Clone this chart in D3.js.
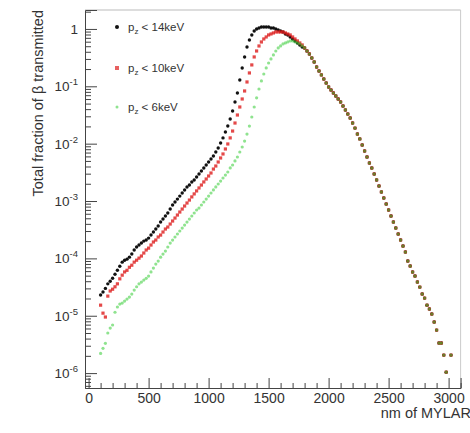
<!DOCTYPE html>
<html>
<head>
<meta charset="utf-8">
<script src="https://cdn.jsdelivr.net/npm/d3@7"></script>
<style>
  body { margin: 0; background: #fff; }
  svg { display: block; }
  text { font-family: "Liberation Sans", Arial, Helvetica, sans-serif; }
</style>
</head>
<body>
<svg id="chart" width="470" height="433"></svg>
<script>
// Thickness grid (nm of Mylar): separate branch up to 1780 nm, common tail from 1800 nm
const headNm = d3.range(100, 1800, 20);
const tailNm = d3.range(1800, 3040, 20);

// Transmitted fraction, p_z < 14 keV
const frac14 = [
  2.3e-5, 2.6e-5, 3.0e-5, 3.6e-5, 4.0e-5, 4.5e-5, 5.3e-5, 6.2e-5, 7.3e-5, 8.6e-5,
  9.3e-5, 9.7e-5, 1.05e-4, 1.19e-4, 1.40e-4, 1.58e-4, 1.71e-4, 1.85e-4, 2.0e-4, 2.09e-4,
  2.26e-4, 2.55e-4, 2.88e-4, 3.25e-4, 3.66e-4, 4.30e-4, 4.85e-4, 5.48e-4, 6.18e-4, 7.25e-4,
  8.52e-4, 9.61e-4, 1.08e-3, 1.22e-3, 1.38e-3, 1.56e-3, 1.76e-3, 1.90e-3, 2.15e-3, 2.33e-3,
  2.63e-3, 2.96e-3, 3.34e-3, 3.77e-3, 4.25e-3, 4.79e-3, 5.41e-3, 6.10e-3, 7.16e-3, 8.41e-3,
  1.03e-2, 1.26e-2, 1.60e-2, 2.03e-2, 2.69e-2, 3.71e-2, 5.33e-2, 7.65e-2, 0.129, 0.209,
  0.325, 0.485, 0.643, 0.786, 0.923, 1.0, 1.04, 1.08, 1.08, 1.08,
  1.08, 1.04, 1.04, 1.0, 0.961, 0.923, 0.887, 0.818, 0.786, 0.725,
  0.669, 0.618, 0.570, 0.526, 0.485
];

// Transmitted fraction, p_z < 10 keV
const frac10 = [
  1.53e-5, 1.11e-5, 9.5e-6, 2.2e-5, 2.7e-5, 2.9e-5, 3.2e-5, 3.6e-5, 4.4e-5, 5.1e-5,
  5.8e-5, 6.2e-5, 7.0e-5, 7.6e-5, 8.6e-5, 9.3e-5, 1.01e-4, 1.10e-4, 1.24e-4, 1.40e-4,
  1.51e-4, 1.71e-4, 1.93e-4, 2.09e-4, 2.36e-4, 2.55e-4, 2.88e-4, 3.25e-4, 3.52e-4, 3.97e-4,
  4.48e-4, 5.05e-4, 5.70e-4, 6.43e-4, 7.25e-4, 8.18e-4, 9.23e-4, 1.04e-3, 1.18e-3, 1.33e-3,
  1.50e-3, 1.69e-3, 1.90e-3, 2.15e-3, 2.42e-3, 2.73e-3, 3.08e-3, 3.61e-3, 4.08e-3, 4.79e-3,
  5.63e-3, 6.61e-3, 8.08e-3, 9.88e-3, 1.26e-2, 1.66e-2, 2.29e-2, 3.16e-2, 4.36e-2, 6.01e-2,
  8.29e-2, 0.119, 0.171, 0.236, 0.325, 0.413, 0.505, 0.593, 0.669, 0.725,
  0.786, 0.818, 0.852, 0.887, 0.887, 0.887, 0.887, 0.852, 0.818, 0.786,
  0.725, 0.669, 0.618, 0.570, 0.526
];

// Transmitted fraction, p_z < 6 keV
const frac6 = [
  2.2e-6, 2.7e-6, 3.3e-6, 5.0e-6, 6.1e-6, 6.9e-6, 1.15e-5, 1.42e-5, 1.60e-5, 1.66e-5,
  1.80e-5, 1.95e-5, 2.12e-5, 2.39e-5, 2.80e-5, 3.2e-5, 3.6e-5, 3.86e-5, 4.18e-5, 4.5e-5,
  4.91e-5, 5.8e-5, 6.78e-5, 7.95e-5, 8.97e-5, 1.05e-4, 1.19e-4, 1.34e-4, 1.58e-4, 1.85e-4,
  2.09e-4, 2.36e-4, 2.66e-4, 3.00e-4, 3.38e-4, 3.81e-4, 4.30e-4, 4.85e-4, 5.48e-4, 6.18e-4,
  6.97e-4, 7.55e-4, 8.52e-4, 9.61e-4, 1.08e-3, 1.22e-3, 1.38e-3, 1.56e-3, 1.76e-3, 1.98e-3,
  2.23e-3, 2.52e-3, 2.84e-3, 3.21e-3, 3.77e-3, 4.25e-3, 5.00e-3, 5.86e-3, 7.16e-3, 8.75e-3,
  1.11e-2, 1.47e-2, 2.03e-2, 2.92e-2, 4.36e-2, 6.31e-2, 8.98e-2, 0.124, 0.164, 0.209,
  0.255, 0.300, 0.352, 0.413, 0.466, 0.505, 0.548, 0.570, 0.593, 0.618,
  0.618, 0.593, 0.570, 0.548, 0.505
];

// Common tail shared by all three cuts (null = no entry)
const fracTail = [
  0.466, 0.413, 0.366, 0.312, 0.266, 0.217, 0.185, 0.158, 0.134, 0.114,
  0.0974, 0.0863, 0.0765, 0.0679, 0.0601, 0.0533, 0.0454, 0.0387, 0.0329, 0.0280,
  0.0229, 0.0187, 0.0147, 0.0121, 0.00948, 0.00745, 0.00586, 0.00460, 0.00376, 0.00296,
  0.00233, 0.00183, 0.00144, 0.00113, 8.87e-4, 6.97e-4, 5.48e-4, 4.30e-4, 3.38e-4, 2.66e-4,
  2.09e-4, 1.64e-4, 1.29e-4, 8.98e-5, 7.35e-5, 5.78e-5, 4.92e-5, 3.87e-5, 3.16e-5, 2.39e-5,
  2.03e-5, 1.53e-5, 1.31e-5, 1.07e-5, 7.76e-6, 5.62e-6, 3.34e-6, 3.34e-6, 2.06e-6, 1.04e-6,
  null, 2.06e-6
];

const seriesNames = ["14keV", "10keV", "6keV"];
const xTicks = [0, 500, 1000, 1500, 2000, 2500, 3000];
const yExponents = [-6, -5, -4, -3, -2, -1, 0];

const svg = d3.select("#chart");
const L = 85, R = 460.6, T = 10, B = 388;

const x = d3.scaleLinear().domain([-30, 3100]).range([L, R]);
const y = d3.scaleLog().domain([5.5e-7, 2.14]).range([B, T]);

const axisColor = "#444";

// frame
svg.append("line").attr("x1", L).attr("x2", R).attr("y1", T).attr("y2", T)
  .attr("stroke", "#bbb").attr("stroke-width", 1);
svg.append("line").attr("x1", R).attr("x2", R).attr("y1", T).attr("y2", B)
  .attr("stroke", "#ccc").attr("stroke-width", 1);

// x axis
const xMinor = d3.range(0, 3101, 100).filter(v => v % 500 !== 0);
const gx = svg.append("g").attr("transform", `translate(0,${B})`);
gx.call(d3.axisBottom(x).tickValues(xTicks).tickSize(-10).tickPadding(5).tickFormat(d3.format("d")));
gx.append("g").call(d3.axisBottom(x).tickValues(xMinor).tickSize(-5).tickFormat(""))
  .select(".domain").remove();
gx.selectAll(".domain").attr("stroke", axisColor);
gx.selectAll(".tick line").attr("stroke", axisColor);
gx.selectAll("text").attr("font-size", 14).attr("fill", "#333")
  .attr("font-family", '"Liberation Sans", Arial, sans-serif');

// y axis
const yMajor = yExponents.map(e => Math.pow(10, e));
const yMinor = [];
for (let e = -7; e <= 0; e++) {
  for (let m = 2; m <= 9; m++) {
    const v = m * Math.pow(10, e);
    if (v >= y.domain()[0] && v <= y.domain()[1]) yMinor.push(v);
  }
}
const gy = svg.append("g").attr("transform", `translate(${L},0)`);
gy.call(d3.axisLeft(y).tickValues(yMajor).tickSize(-12).tickFormat(""));
gy.append("g").call(d3.axisLeft(y).tickValues(yMinor).tickSize(-6).tickFormat(""))
  .select(".domain").remove();
gy.selectAll(".domain").attr("stroke", axisColor);
gy.selectAll(".tick line").attr("stroke", axisColor);

// y tick labels as 10^n
const yl = svg.append("g").attr("fill", "#333");
yExponents.forEach(e => {
  const t = yl.append("text").attr("x", 78).attr("y", y(Math.pow(10, e)) + 5)
    .attr("text-anchor", "end").attr("font-size", 13.5);
  if (e === 0) {
    t.text("1");
  } else {
    t.append("tspan").text("10");
    t.append("tspan").attr("dy", -6).attr("font-size", 9.5).text(String(e));
  }
});

// axis titles
svg.append("text").attr("x", 471).attr("y", 418).attr("text-anchor", "end")
  .attr("font-size", 14.5).attr("fill", "#333").text("nm of MYLAR");
svg.append("text")
  .attr("transform", `translate(43,${T}) rotate(-90)`)
  .attr("text-anchor", "end").attr("font-size", 14.5).attr("fill", "#333")
  .text("Total fraction of β transmitted");

// data points
function points(head) {
  const pts = headNm.map((t, i) => ({ t, v: head[i] }));
  tailNm.forEach((t, i) => { if (fracTail[i] != null) pts.push({ t, v: fracTail[i] }); });
  return pts;
}
const styles = [
  { data: points(frac14), color: "#111", shape: "circle", size: 1.7, op: 1 },
  { data: points(frac10), color: "#dd1c1c", shape: "square", size: 3.2, op: 0.8 },
  { data: points(frac6), color: "#33cc33", shape: "circle", size: 1.6, op: 0.55 }
];

const plotArea = svg.append("g");
styles.forEach(s => {
  const g = plotArea.append("g").attr("fill", s.color).attr("fill-opacity", s.op);
  if (s.shape === "circle") {
    g.selectAll("circle").data(s.data).join("circle")
      .attr("cx", d => x(d.t)).attr("cy", d => y(d.v)).attr("r", s.size);
  } else {
    g.selectAll("rect").data(s.data).join("rect")
      .attr("x", d => x(d.t) - s.size / 2).attr("y", d => y(d.v) - s.size / 2)
      .attr("width", s.size).attr("height", s.size);
  }
});

// legend
const legY = [27, 68, 107];
const leg = svg.append("g");
seriesNames.forEach((name, i) => {
  const s = styles[i];
  const yy = legY[i];
  if (s.shape === "circle") {
    leg.append("circle").attr("cx", 117).attr("cy", yy).attr("r", i === 2 ? 1.5 : 2)
      .attr("fill", s.color).attr("fill-opacity", s.op);
  } else {
    leg.append("rect").attr("x", 115).attr("y", yy - 2).attr("width", 4).attr("height", 4)
      .attr("fill", s.color).attr("fill-opacity", 0.7);
  }
  const t = leg.append("text").attr("x", 128).attr("y", yy + 4)
    .attr("font-size", 11.5).attr("fill", "#333");
  t.append("tspan").text("p");
  t.append("tspan").attr("dy", 3).attr("font-size", 8).text("z");
  t.append("tspan").attr("dy", -3).text(" < " + name);
});
</script>
</body>
</html>
